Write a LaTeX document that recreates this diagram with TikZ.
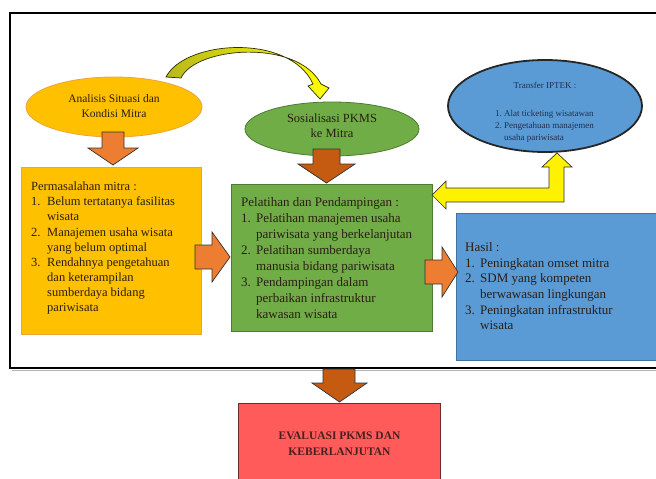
\documentclass[tikz,border=0pt]{standalone}
\usepackage{fontspec}
\setmainfont{Liberation Serif}
\usetikzlibrary{shapes.geometric}
\definecolor{goldfill}{HTML}{FFC000}
\definecolor{goldline}{HTML}{EDA43A}
\definecolor{greenfill}{HTML}{70AD47}
\definecolor{greenline}{HTML}{4E7A32}
\definecolor{bluefill}{HTML}{5B9BD5}
\definecolor{blueline}{HTML}{41719C}
\definecolor{redfill}{HTML}{FF5B5B}
\definecolor{redline}{HTML}{6B2C2C}
\definecolor{orangeL}{HTML}{ED7D31}
\definecolor{orangeD}{HTML}{C55A11}
\definecolor{txt}{HTML}{2A1E14}
\definecolor{navytxt}{HTML}{1F2F4F}
\definecolor{olive}{HTML}{B8B81A}
\tikzset{
  blockarr/.style={draw=black!80, line width=0.7pt, line join=miter},
  ellbox/.style={ellipse, inner sep=0pt},
  rectbox/.style={rectangle, inner sep=0pt, line width=0.8pt},
  listtext/.style={inner sep=0pt, text=txt, anchor=north west}
}
\begin{document}
\begin{tikzpicture}[x=1pt,y=-1pt]
\useasboundingbox (0,0) rectangle (656,479);
\clip (0,0) rectangle (656,479);
\fill[white] (0,0) rectangle (656,479);

% frame
\draw[black!30, line width=1.2pt] (12,370.6) -- (700,370.6);
\draw[black, line width=2pt] (10,13) rectangle (700,368);

% ellipses
\node[ellbox, fill=goldfill, draw=goldline, line width=0.8pt, minimum width=176pt, minimum height=60pt] (analisis) at (114,107) {};
\node[text=txt, align=center, inner sep=0pt, font={\fontsize{11.5}{15}\selectfont}] (analisisT) at (114,106) {Analisis Situasi dan\\Kondisi Mitra};

\node[ellbox, fill=greenfill, draw=greenline, line width=0.8pt, minimum width=174pt, minimum height=54pt] (sos) at (332,129) {};
\node[text=txt, align=center, inner sep=0pt, font={\fontsize{12.5}{15}\selectfont}] (sosT) at (332,126) {Sosialisasi PKMS\\ke Mitra};

\node[ellbox, fill=bluefill, draw=black!85, line width=1.8pt, minimum width=194pt, minimum height=92pt] (iptek) at (545,106) {};
\node[text=navytxt, inner sep=0pt, font={\fontsize{9}{12}\selectfont}] (iptekT) at (545,85) {Transfer IPTEK :};
\node[listtext, text=navytxt, font={\fontsize{9}{12}\selectfont}] (iptekL) at (495,107.6) {%
\begin{tabular}{@{}p{9pt}@{}l@{}}
1. & Alat ticketing wisatawan\\
2. & Pengetahuan manajemen\\
   & usaha pariwisata
\end{tabular}};

% boxes
\node[rectbox, fill=goldfill, draw=goldline, minimum width=180pt, minimum height=167pt] (perm) at (111,250.5) {};
\node[listtext, font={\fontsize{12.5}{15.1}\selectfont}] (permT) at (31,180) {%
\begin{tabular}{@{}p{16pt}@{}l@{}}
\multicolumn{2}{@{}l@{}}{Permasalahan mitra :}\\
1. & Belum tertatanya fasilitas\\
   & wisata\\
2. & Manajemen usaha wisata\\
   & yang belum optimal\\
3. & Rendahnya pengetahuan\\
   & dan keterampilan\\
   & sumberdaya bidang\\
   & pariwisata
\end{tabular}};

\node[rectbox, fill=greenfill, draw=greenline, minimum width=201pt, minimum height=147pt] (pel) at (331.5,257.5) {};
\node[listtext, font={\fontsize{13}{16}\selectfont}] (pelT) at (241,195.3) {%
\begin{tabular}{@{}p{15pt}@{}l@{}}
\multicolumn{2}{@{}l@{}}{Pelatihan dan Pendampingan :}\\
1. & Pelatihan manajemen usaha\\
   & pariwisata yang berkelanjutan\\
2. & Pelatihan sumberdaya\\
   & manusia bidang pariwisata\\
3. & Pendampingan dalam\\
   & perbaikan infrastruktur\\
   & kawasan wisata
\end{tabular}};

\node[rectbox, fill=bluefill, draw=blueline, minimum width=204pt, minimum height=147pt] (hasil) at (558,286.5) {};
\node[listtext, font={\fontsize{13}{15.6}\selectfont}] (hasilT) at (465,240.6) {%
\begin{tabular}{@{}p{15pt}@{}l@{}}
\multicolumn{2}{@{}l@{}}{Hasil :}\\
1. & Peningkatan omset mitra\\
2. & SDM yang kompeten\\
   & berwawasan lingkungan\\
3. & Peningkatan infrastruktur\\
   & wisata
\end{tabular}};

\node[rectbox, fill=redfill, draw=redline, minimum width=202pt, minimum height=100pt] (eval) at (339,453) {};
\node[text=redline!70!black, align=center, inner sep=0pt, font={\fontsize{11.5}{16}\selectfont\bfseries}] (evalT) at (339.5,444) {EVALUASI PKMS DAN\\KEBERLANJUTAN};

% block arrows
% analisis -> perm
\filldraw[blockarr, fill=orangeL] (102,132) -- (124,132) -- (124,148) -- (138,148) -- (113,165) -- (88,148) -- (102,148) -- cycle;
% sos -> pel
\filldraw[blockarr, fill=orangeD] (313,149) -- (340,149) -- (340,164) -- (355,164) -- (326.5,183) -- (298,164) -- (313,164) -- cycle;
% perm -> pel
\filldraw[blockarr, fill=orangeL] (195,245) -- (212,245) -- (212,232) -- (230,257) -- (212,282) -- (212,269) -- (195,269) -- cycle;
% pel -> hasil
\filldraw[blockarr, fill=orangeL] (425,260) -- (442,260) -- (442,247) -- (458,272) -- (442,297) -- (442,284) -- (425,284) -- cycle;
% frame -> eval
\filldraw[blockarr, fill=orangeD] (323,369) -- (355,369) -- (355,383) -- (367,383) -- (339.5,402) -- (312,383) -- (323,383) -- cycle;

% yellow bent double arrow between pel and iptek
\filldraw[blockarr, fill=yellow] (432,195) -- (446,181) -- (446,188) -- (549,188) -- (549,167) -- (542,167) -- (557,153) -- (572,167) -- (564,167) -- (564,202) -- (446,202) -- (446,209) -- cycle;

% yellow curved arrow analisis -> sosialisasi
\path[draw=black!75!olive, line width=0.7pt, left color=olive, right color=yellow]
  (166,77) .. controls (185,40) and (290,33) .. (313,84)
  -- (308,86) -- (320,99) -- (329,88) -- (321,84)
  .. controls (297,38) and (195,47) .. (181,78) -- cycle;
\end{tikzpicture}
\end{document}
